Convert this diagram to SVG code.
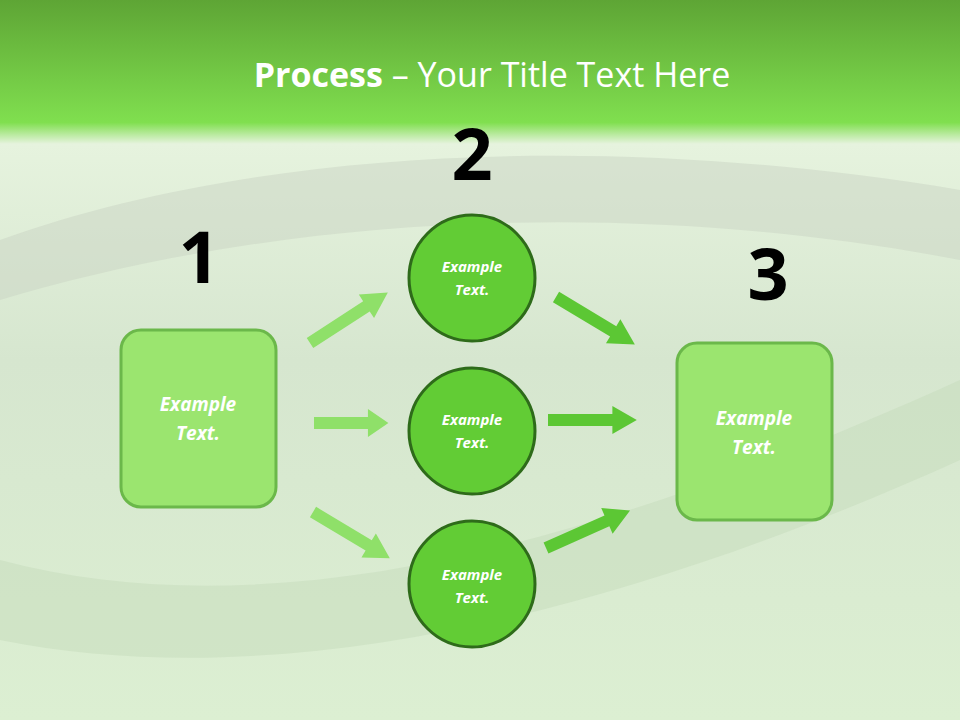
<svg xmlns="http://www.w3.org/2000/svg" width="960" height="720" viewBox="0 0 960 720">
<defs>
<linearGradient id="bg" x1="0" y1="0" x2="0" y2="1">
<stop offset="0" stop-color="#5ea535"/>
<stop offset="0.17" stop-color="#80df4f"/>
<stop offset="0.2" stop-color="#e6f3de"/>
<stop offset="0.5" stop-color="#d6e6cf"/>
<stop offset="1" stop-color="#dcefd2"/>
</linearGradient>
<polygon id="arr" points="0,-6 58,-6 58,-14 80,0 58,14 58,6 0,6"/>
<style>
.num{font-family:"Open Sans","DejaVu Sans",sans-serif;font-weight:bold;font-size:72px;fill:#000;text-anchor:middle}
.box{fill:#9be56f;stroke:#6bb84a;stroke-width:3}
.cir{fill:#62cc35;stroke:#2e6b1a;stroke-width:3}
.lbl{font-family:"Open Sans","DejaVu Sans",sans-serif;font-weight:bold;font-style:italic;fill:#fff;text-anchor:middle}
.a1{fill:#8fe069}
.a2{fill:#5cc734}
</style>
</defs>
<rect width="960" height="720" fill="url(#bg)"/>
<path d="M0,240 C250,150 600,130 960,190 L960,260 C650,200 300,210 0,300Z" fill="#c9d4c4" opacity="0.5"/>
<path d="M0,560 C300,640 650,520 960,380 L960,460 C650,600 300,700 0,640Z" fill="#c5dcbb" opacity="0.5"/>
<text x="492" y="87" text-anchor="middle" font-family="'Open Sans','DejaVu Sans',sans-serif" font-size="34" fill="#fff"><tspan font-weight="bold">Process</tspan> – Your Title Text Here</text>
<g id="connectors">
<use href="#arr" class="a1" transform="translate(310,343) rotate(-33) scale(1.16,1)"/>
<use href="#arr" class="a1" transform="translate(314,423) scale(0.93,1)"/>
<use href="#arr" class="a1" transform="translate(313,512) rotate(31) scale(1.12,1)"/>
<use href="#arr" class="a2" transform="translate(556,297) rotate(31) scale(1.15,1)"/>
<use href="#arr" class="a2" transform="translate(548,420) scale(1.11,1)"/>
<use href="#arr" class="a2" transform="translate(546,548) rotate(-24) scale(1.15,1)"/>
</g>
<g id="n1"><text class="num" x="199" y="283">1</text><rect class="box" x="121" y="330" width="155" height="177" rx="20"/><text class="lbl" x="198" y="411" font-size="19">Example</text><text class="lbl" x="198" y="440" font-size="19">Text.</text></g>
<g id="n2"><text class="num" x="472" y="180">2</text></g>
<g id="c1"><circle class="cir" cx="472" cy="278" r="63"/><text class="lbl" x="472" y="272" font-size="15">Example</text><text class="lbl" x="472" y="295" font-size="15">Text.</text></g>
<g id="c2"><circle class="cir" cx="472" cy="431" r="63"/><text class="lbl" x="472" y="425" font-size="15">Example</text><text class="lbl" x="472" y="448" font-size="15">Text.</text></g>
<g id="c3"><circle class="cir" cx="472" cy="584" r="63"/><text class="lbl" x="472" y="580" font-size="15">Example</text><text class="lbl" x="472" y="603" font-size="15">Text.</text></g>
<g id="n3"><text class="num" x="768" y="300">3</text><rect class="box" x="677" y="343" width="155" height="177" rx="20"/><text class="lbl" x="754" y="425" font-size="19">Example</text><text class="lbl" x="754" y="454" font-size="19">Text.</text></g>
</svg>
